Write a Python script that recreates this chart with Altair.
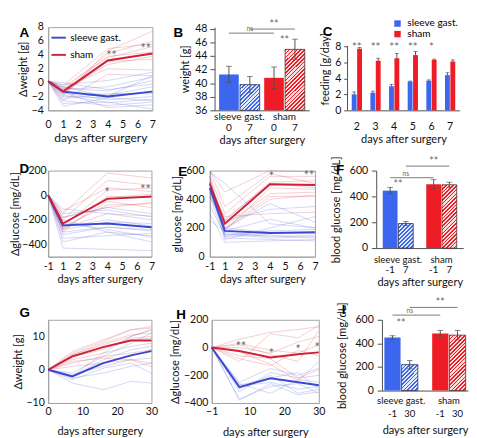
import altair as alt
import pandas as pd

FONT = "Lato"
LETTER_FONT = "Liberation Sans"
GROUPS = ["sleeve gast.", "sham"]
LINE_COLORS = ["#3a48cf", "#cc2238"]
BAR_COLORS = ["#3c66ee", "#ee1c25"]
HATCH_BG = ["#e2e9fc", "#ffdede"]
FRAME = "#a0a0a0"
BAR_AXIS = "#4a4a4a"
ERR = "#505050"
STAR = "#6a6a6a"

# ---------------- data ----------------
A_days = [0, 1, 4, 7]
A_sg_mean = [0.2, -1.3, -2.0, -1.3]
A_sham_mean = [0.2, -1.3, 3.2, 4.2]
A_sg_ind = [
    [0.2, -0.8, -1.2, 0.3], [0.2, -1.5, -2.5, -2.0], [0.2, -3.0, -2.8, -3.8],
    [0.2, -0.3, 0.3, 1.5], [0.2, -2.0, -2.2, -1.2], [0.2, -2.6, -3.3, -2.8],
    [0.2, -1.0, -0.6, 0.8], [0.2, -1.2, -1.8, -0.6], [0.2, -1.8, -2.9, -2.4],
    [0.2, 0.0, -1.0, -0.2], [0.2, -2.3, -1.6, -1.6], [0.2, -0.6, -2.0, 1.0],
    [0.2, -1.4, -3.6, -3.2], [0.2, -3.4, -2.2, -2.6],
]
A_sham_ind = [
    [0.2, -0.6, 3.6, 5.2], [0.2, -1.0, 2.6, 3.8], [0.2, -2.0, 4.6, 7.4],
    [0.2, -1.6, 3.0, 3.4], [0.2, -0.8, 2.0, 1.8], [0.2, -1.3, 3.8, 4.4],
    [0.2, -2.6, 1.2, 1.0], [0.2, -1.1, 4.2, 6.0], [0.2, -1.7, 3.3, 4.1],
    [0.2, -0.4, 4.9, 5.6],
]
A_star_x = [4.25, 6.55]
A_star_y = [3.8, 4.8]
A_star_t = ["**", "**"]

BAR_GROUP = ["sleeve gast.", "sleeve gast.", "sham", "sham"]
B_days = ["0", "7", "0", "7"]
B_mean = [41.3, 39.8, 40.8, 45.0]
B_err = [1.2, 1.2, 1.6, 1.5]
B_ns_y, B_ss_y, B_star_y = 47.4, 48.0, 46.2

C_days = [2, 3, 4, 5, 6, 7]
C_sg = [2.0, 2.2, 3.0, 3.6, 3.7, 4.4]
C_sg_err = [0.3, 0.2, 0.25, 0.05, 0.1, 0.3]
C_sham = [7.7, 6.2, 6.5, 6.9, 6.3, 6.1]
C_sham_err = [0.15, 0.3, 0.6, 0.45, 0.1, 0.2]
C_stars = ["**", "**", "**", "**", "*", ""]

D_days = [-1, 1, 4, 7]
D_sg_mean = [0, -245, -230, -260]
D_sham_mean = [0, -230, -30, -10]
D_sg_ind = [
    [0, -110, -150, -200], [0, -200, -300, -330], [0, -260, -200, -250],
    [0, -300, -260, -290], [0, -350, -330, -310], [0, -430, -440, -450],
    [0, -180, -100, -150], [0, -240, -230, -260], [0, -280, -220, -230],
    [0, -320, -260, -280], [0, -150, -120, -175], [0, -380, -300, -380],
    [0, -220, -280, -340],
]
D_sham_ind = [
    [0, -150, 180, 140], [0, -200, 120, 80], [0, -250, 40, 60],
    [0, -280, -50, -100], [0, -180, -100, -60], [0, -230, -20, 10],
    [0, -270, -150, -170], [0, -130, 60, 30], [0, -260, -80, -70],
    [0, -300, -10, -20],
]
D_star_x = [4.0, 6.6]
D_star_y = [15, 40]
D_star_t = ["*", "**"]

E_days = [-1, 1, 4, 7]
E_sg_mean = [480, 180, 165, 170]
E_sham_mean = [510, 230, 505, 500]
E_sg_ind = [
    [520, 150, 160, 170], [480, 200, 370, 240], [440, 170, 140, 150],
    [500, 120, 200, 280], [560, 140, 150, 130], [300, 100, 110, 120],
    [250, 180, 260, 200], [450, 200, 170, 160], [520, 160, 130, 140],
    [480, 250, 330, 350], [420, 130, 120, 110], [590, 510, 230, 200],
    [360, 150, 180, 190],
]
E_sham_ind = [
    [600, 450, 600, 590], [560, 300, 560, 560], [540, 250, 520, 530],
    [500, 180, 480, 470], [480, 200, 420, 420], [420, 220, 440, 450],
    [600, 350, 580, 510], [460, 280, 300, 310], [520, 190, 400, 430],
    [500, 260, 510, 480],
]
E_star_x = [4.1, 6.6]
E_star_y = [555, 560]
E_star_t = ["*", "**"]

F_days = ["-1", "7", "-1", "7"]
F_mean = [445, 190, 495, 490]
F_err = [25, 15, 35, 20]
F_ns_y, F_ss_y, F_star_y = 545, 635, 485

G_days = [0, 7, 16, 24, 30]
G_sg_mean = [0, -2.0, 2.0, 4.3, 5.6]
G_sham_mean = [0, 4.0, 6.8, 8.8, 8.8]
G_sg_ind = [
    [0, -1.5, 1.0, 3.0, 3.5], [0, -2.5, -1.0, 1.0, 2.0], [0, -4.0, -6.0, -3.5, -4.0],
    [0, -1.0, 4.0, 8.0, 11.0], [0, -2.0, 3.0, 6.0, 7.0], [0, -3.0, 0.5, 2.0, -1.0],
    [0, -2.0, 5.0, 10.0, 12.0], [0, -1.8, 2.0, 4.0, 6.0],
]
G_sham_ind = [
    [0, 5.5, 9.0, 12.0, 12.5], [0, 4.5, 8.0, 10.5, 11.0], [0, 3.5, 7.0, 9.0, 9.5],
    [0, 2.0, 4.0, 5.0, 6.0], [0, 1.0, 2.0, 3.0, 2.0], [0, 4.0, 6.0, 9.5, 10.0],
    [0, 3.0, 5.0, 7.0, 8.0], [0, 5.0, 8.5, 12.0, 13.0], [0, 2.5, 3.5, 3.0, 1.0],
    [0, 4.5, 7.5, 10.0, 12.0],
]

H_days = [-1, 7, 16, 24, 30]
H_sg_mean = [0, -285, -222, -250, -272]
H_sham_mean = [0, -25, -72, -48, -35]
H_sg_ind = [
    [0, -250, -150, -200, -150], [0, -300, -200, -330, -300], [0, -370, -280, -260, -330],
    [0, -260, -330, -230, -250], [0, -280, -250, -300, -280], [0, -320, -180, -220, -200],
    [0, -380, -260, -340, -320], [0, -270, -220, -180, -300],
]
H_sham_ind = [
    [0, 60, 110, 130, 150], [0, -100, 100, 70, 160], [0, 20, -50, -100, 120],
    [0, -30, -120, -240, -100], [0, -60, -80, -220, -160], [0, 0, -40, 40, 80],
    [0, -80, -130, -20, -60], [0, 30, -20, -40, 20],
]
H_star_x = [7.5, 16.3, 24.0, 29.5]
H_star_y = [5, -45, -20, -8]
H_star_t = ["**", "*", "*", "*"]

I_days = ["-1", "30", "-1", "30"]
I_mean = [450, 220, 485, 470]
I_err = [15, 35, 25, 40]
I_ns_y, I_ss_y, I_star_y = 640, 705, 560


# ---------------- helpers ----------------
def long_df(days, sg_ind, sham_ind):
    rows = []
    for gname, ind in (("sleeve gast.", sg_ind), ("sham", sham_ind)):
        for k, series in enumerate(ind):
            for d, v in zip(days, series):
                rows.append({"id": f"{gname}-{k}", "group": gname, "day": d, "v": v})
    return pd.DataFrame(rows)


def mean_df(days, sg, sham):
    rows = []
    for gname, s in (("sleeve gast.", sg), ("sham", sham)):
        for d, v in zip(days, s):
            rows.append({"group": gname, "day": d, "v": v})
    return pd.DataFrame(rows)


def frame_layers(letter, dx, dy, L, R, T, B, W, H):
    # invisible layout box fixing the panel's extent, plus the panel letter
    sp = alt.Chart(pd.DataFrame({"s": [0]})).mark_rect(color="white", opacity=0).encode(
        x=alt.value(-L), x2=alt.value(W + R), y=alt.value(-T), y2=alt.value(H + B))
    lt = alt.Chart(pd.DataFrame({"t": [letter]})).mark_text(
        align="left", baseline="top", font=LETTER_FONT, fontWeight="bold",
        fontSize=14, color="#000").encode(x=alt.value(dx), y=alt.value(dy), text="t:N")
    return [sp, lt]


def hatch(line_c, bg_c, w, h, spacing=2.8):
    r = h / w
    s = (1 + r) / (1 + r * r)
    n = max(3, round((w + h) / (1.41421 * spacing)))
    stops = []
    for i in range(n):
        a, b, c = i / n, (i + 0.42) / n, (i + 1) / n
        stops += [alt.GradientStop(offset=a, color=line_c), alt.GradientStop(offset=b, color=line_c),
                  alt.GradientStop(offset=b, color=bg_c), alt.GradientStop(offset=c, color=bg_c)]
    return alt.LinearGradient(gradient="linear", stops=stops, x1=0, y1=0, x2=s, y2=s * r)


def line_panel(p):
    days = p["days"]
    ind = long_df(days, p["sg_ind"], p["sham_ind"])
    mean = mean_df(days, p["sg_mean"], p["sham_mean"])
    px_expr = "datum.day < 0 ? 0 : datum.day" if p["shift"] else "datum.day"
    xax = dict(values=p["xticks"], title="days after surgery", ticks=False,
               labelPadding=p["xlp"], titlePadding=p["xtp"], labelFlush=False,
               labelOverlap=False, labelBound=False, domainColor=FRAME,
               titleFontSize=p.get("xtfs", 11.5))
    if p["shift"]:
        xax["labelExpr"] = "datum.value == 0 ? '-1' : datum.label"
    X = alt.X("px:Q", scale=alt.Scale(domain=p["xdom"], nice=False, zero=False), axis=alt.Axis(**xax))
    Y = alt.Y("v:Q", scale=alt.Scale(domain=p["ydom"], nice=False, zero=False),
              axis=alt.Axis(values=p["yticks"], title=p["ytitle"], ticks=False,
                            labelPadding=p["ylp"], titlePadding=p["ytp"], labelFlush=False,
                            labelOverlap=False, domainColor=FRAME))
    cscale = alt.Scale(domain=GROUPS, range=LINE_COLORS)
    leg = p.get("legend")
    ind_l = alt.Chart(ind).transform_calculate(px=px_expr).mark_line(
        strokeWidth=0.8, opacity=0.28).encode(
        x=X, y=Y, color=alt.Color("group:N", scale=cscale, legend=leg if leg is not None else None),
        detail="id:N")
    mean_l = alt.Chart(mean).transform_calculate(px=px_expr).mark_line(strokeWidth=2).encode(
        x=X, y=Y, color=alt.Color("group:N", scale=cscale, legend=leg if leg is not None else None))
    layers = frame_layers(p["letter"], p["ldx"], p["ldy"], *p["box"], p["W"], p["H"])
    layers += [ind_l, mean_l]
    if p.get("stars"):
        sx, sy, st = p["stars"]
        sdf = pd.DataFrame({"px": sx, "v": sy, "t": st})
        layers.append(alt.Chart(sdf).mark_text(color=STAR, fontSize=13, baseline="middle").encode(
            x=X, y=Y, text="t:N"))
    return alt.layer(*layers).properties(width=p["W"], height=p["H"])


def bar_panel(p):
    d0, d1 = p["days"][0], p["days"][1]
    df = pd.DataFrame({"group": BAR_GROUP, "day": p["days"], "v": p["mean"], "err": p["err"]})
    df["lo"] = df["v"] - df["err"]
    df["hi"] = df["v"] + df["err"]
    W, H = p["W"], p["H"]
    X = alt.X("group:N", sort=GROUPS,
              scale=alt.Scale(type="band", domain=GROUPS, paddingInner=p["pi"], paddingOuter=p["po"]),
              axis=alt.Axis(title="days after surgery", ticks=False, labelAngle=0,
                            labelPadding=p["xlp"], titlePadding=p["xtp"], domainColor=BAR_AXIS,
                            labelFontSize=p["lfs"]))
    XO = alt.XOffset("day:N", sort=[d0, d1],
                     scale=alt.Scale(type="band", domain=[d0, d1], paddingInner=0.06, paddingOuter=0))

    def Y(f):
        return alt.Y(f, scale=alt.Scale(domain=p["ydom"], nice=False, zero=False),
                     axis=alt.Axis(values=p["yticks"], title=p["ytitle"], tickSize=5,
                                   labelPadding=p["ylp"], titlePadding=p["ytp"],
                                   domainColor=BAR_AXIS, tickColor=BAR_AXIS))

    base = alt.Chart(df)
    ybase = alt.datum(p["ydom"][0])
    solid = base.transform_filter(alt.datum.day == d0).mark_bar().encode(
        x=X, xOffset=XO, y=Y("v:Q"), y2=ybase,
        color=alt.Color("group:N", scale=alt.Scale(domain=GROUPS, range=BAR_COLORS), legend=None))
    bw, hb, hr = p["hatch_px"]
    hb_l = base.transform_filter((alt.datum.day == d1) & (alt.datum.group == GROUPS[0])).mark_bar(
        fill=hatch(BAR_COLORS[0], HATCH_BG[0], bw, hb), stroke="#2a2a40", strokeWidth=0.8).encode(
        x=X, xOffset=XO, y=Y("v:Q"), y2=ybase)
    hr_l = base.transform_filter((alt.datum.day == d1) & (alt.datum.group == GROUPS[1])).mark_bar(
        fill=hatch(BAR_COLORS[1], HATCH_BG[1], bw, hr), stroke="#402a2a", strokeWidth=0.8).encode(
        x=X, xOffset=XO, y=Y("v:Q"), y2=ybase)
    err = base.mark_rule(color=ERR, strokeWidth=1).encode(x=X, xOffset=XO, y=Y("lo:Q"), y2="hi:Q")
    cap_hi = base.mark_tick(orient="horizontal", size=6, thickness=1, color=ERR).encode(
        x=X, xOffset=XO, y=Y("hi:Q"))
    cap_lo = base.mark_tick(orient="horizontal", size=6, thickness=1, color=ERR).encode(
        x=X, xOffset=XO, y=Y("lo:Q"))
    days_t = base.mark_text(baseline="top", fontSize=p["lfs"], color="#111").encode(
        x=X, xOffset=XO, y=alt.value(H + p["dly"]), text="day:N")
    sig = pd.DataFrame({
        "id": ["ns", "ns", "ss", "ss"],
        "group": [GROUPS[0], GROUPS[1], GROUPS[0], GROUPS[1]],
        "day": [d0, d0, d1, d1],
        "v": [p["ns"], p["ns"], p["ss"], p["ss"]],
    })
    sig_l = alt.Chart(sig).mark_line(color="#777", strokeWidth=1).encode(
        x=X, xOffset=XO, y=Y("v:Q"), detail="id:N")
    sig_t = pd.DataFrame({"group": [GROUPS[0], GROUPS[1]], "day": [d1, d0],
                          "v": [p["ns"], p["ss"]], "t": ["ns", "**"]})
    ns_t = alt.Chart(sig_t).transform_filter(alt.datum.t == "ns").mark_text(
        fontSize=7, color=STAR, baseline="bottom", dy=-1).encode(x=X, xOffset=XO, y=Y("v:Q"), text="t:N")
    ss_t = alt.Chart(sig_t).transform_filter(alt.datum.t == "**").mark_text(
        fontSize=11, color=STAR, baseline="middle", dy=-4).encode(x=X, xOffset=XO, y=Y("v:Q"), text="t:N")
    st = pd.DataFrame({"group": [p["star_group"]], "v": [p["star_y"]], "t": ["**"]})
    star_l = alt.Chart(st).mark_text(fontSize=11, color=STAR, baseline="middle").encode(
        x=X, y=Y("v:Q"), text="t:N")
    layers = frame_layers(p["letter"], p["ldx"], p["ldy"], *p["box"], W, H)
    layers += [solid, hb_l, hr_l, err, cap_hi, cap_lo, days_t, sig_l, ns_t, ss_t, star_l]
    return alt.layer(*layers).properties(width=W, height=H, view=alt.ViewBackground(stroke="transparent"))


def feeding_panel():
    W, H = 117, 87
    rows = []
    for gname, vals, errs in (("sleeve gast.", C_sg, C_sg_err), ("sham", C_sham, C_sham_err)):
        for d, v, e in zip(C_days, vals, errs):
            rows.append({"day": d, "group": gname, "v": v, "hi": v + e})
    df = pd.DataFrame(rows)
    X = alt.X("day:O", scale=alt.Scale(type="band", domain=C_days, paddingInner=0.45, paddingOuter=0.225),
              axis=alt.Axis(title="days after surgery", ticks=False, labelAngle=0, labelPadding=11,
                            titlePadding=3, domainColor=BAR_AXIS))
    XO = alt.XOffset("group:N", sort=GROUPS,
                     scale=alt.Scale(type="band", domain=GROUPS, paddingInner=0.1, paddingOuter=0))

    def Y(f):
        return alt.Y(f, scale=alt.Scale(domain=[0, 10.39], nice=False, zero=False),
                     axis=alt.Axis(values=[0, 2, 4, 6, 8], title="feeding [g/day]", tickSize=4,
                                   domain=False, labelPadding=3, titlePadding=4, tickColor=BAR_AXIS))

    base = alt.Chart(df)
    bars = base.mark_bar().encode(
        x=X, xOffset=XO, y=Y("v:Q"), y2=alt.datum(0),
        color=alt.Color("group:N", scale=alt.Scale(domain=GROUPS, range=BAR_COLORS),
                        legend=alt.Legend(title=None, orient="none", legendX=47, legendY=-9,
                                          symbolType="square", symbolSize=45, labelFontSize=10.5,
                                          labelFont=FONT, rowPadding=0, labelOffset=5,
                                          symbolStrokeWidth=0)))
    err = base.mark_rule(color=ERR, strokeWidth=1).encode(x=X, xOffset=XO, y=Y("v:Q"), y2="hi:Q")
    cap = base.mark_tick(orient="horizontal", size=4, thickness=1, color=ERR).encode(
        x=X, xOffset=XO, y=Y("hi:Q"))
    axis_line = alt.Chart(pd.DataFrame({"lo": [0], "hi": [8]})).mark_rule(color=BAR_AXIS).encode(
        x=alt.value(0), y=Y("lo:Q"), y2="hi:Q")
    stars = alt.Chart(pd.DataFrame({"day": C_days, "t": C_stars, "v": [7.9] * 6})).mark_text(
        fontSize=12, color=STAR, baseline="middle").encode(x=X, y=Y("v:Q"), text="t:N")
    layers = frame_layers("C", -26, -2, 32, 0, 7, 46, W, H)
    layers += [bars, err, cap, axis_line, stars]
    return alt.layer(*layers).properties(width=W, height=H, view=alt.ViewBackground(stroke="transparent"))


LEGEND_A = alt.Legend(title=None, orient="top-left", offset=1, padding=1, symbolType="stroke",
                      symbolStrokeWidth=2, symbolSize=230, symbolOpacity=1, labelFontSize=10.5,
                      labelFont=FONT, rowPadding=3, labelOffset=3)

pA = line_panel(dict(letter="A", ldx=-30, ldy=-1, box=(33, 19, 7, 46), W=109, H=87,
                     days=A_days, sg_ind=A_sg_ind, sham_ind=A_sham_ind, sg_mean=A_sg_mean,
                     sham_mean=A_sham_mean, shift=False, xdom=[0, 7], xticks=list(range(8)),
                     ydom=[-4, 8], yticks=[-4, -2, 0, 2, 4, 6, 8], ytitle="Δweight [g]",
                     xlp=9, xtp=3, ylp=5, ytp=3, xtfs=12.5, legend=LEGEND_A,
                     stars=(A_star_x, A_star_y, A_star_t)))

pB = bar_panel(dict(letter="B", ldx=-43, ldy=-1, box=(44, 6, 7, 46), W=99, H=87,
                    days=B_days, mean=B_mean, err=B_err, ydom=[36, 48.28],
                    yticks=[36, 38, 40, 42, 44, 46, 48], ytitle="weight [g]",
                    pi=0.1, po=0.1, xlp=2, xtp=13, lfs=10.5, ylp=3, ytp=4, dly=14,
                    ns=B_ns_y, ss=B_ss_y, star_group="sham", star_y=B_star_y,
                    hatch_px=(20.5, 27, 64)))

pC = feeding_panel()

pD = line_panel(dict(letter="D", ldx=-30, ldy=-8, box=(33, 20, 10, 40), W=108, H=90,
                     days=D_days, sg_ind=D_sg_ind, sham_ind=D_sham_ind, sg_mean=D_sg_mean,
                     sham_mean=D_sham_mean, shift=True, xdom=[0, 7], xticks=list(range(8)),
                     ydom=[-500, 200], yticks=[-400, -200, 0, 200], ytitle="Δglucose [mg/dL]",
                     xlp=4, xtp=3, ylp=2, ytp=2, stars=(D_star_x, D_star_y, D_star_t)))

pE = line_panel(dict(letter="E", ldx=-33, ldy=-5, box=(37, 15, 10, 40), W=110, H=90,
                     days=E_days, sg_ind=E_sg_ind, sham_ind=E_sham_ind, sg_mean=E_sg_mean,
                     sham_mean=E_sham_mean, shift=True, xdom=[0, 7], xticks=list(range(8)),
                     ydom=[0, 600], yticks=[0, 200, 400, 600], ytitle="glucose [mg/dL]",
                     xlp=4, xtp=3, ylp=6, ytp=3, stars=(E_star_x, E_star_y, E_star_t)))

pF = bar_panel(dict(letter="F", ldx=-42, ldy=-7, box=(46, 0, 14, 45), W=91, H=81,
                    days=F_days, mean=F_mean, err=F_err, ydom=[0, 600],
                    yticks=[0, 200, 400, 600], ytitle="blood glucose [mg/dL]",
                    pi=0.3, po=0.15, xlp=7, xtp=13, lfs=10, ylp=4, ytp=8, dly=18,
                    ns=F_ns_y, ss=F_ss_y, star_group="sleeve gast.", star_y=F_star_y,
                    hatch_px=(15.3, 26, 66)))

pG = line_panel(dict(letter="G", ldx=-30, ldy=-14, box=(33, 17, 15, 30), W=108, H=87,
                     days=G_days, sg_ind=G_sg_ind, sham_ind=G_sham_ind, sg_mean=G_sg_mean,
                     sham_mean=G_sham_mean, shift=False, xdom=[0, 30], xticks=[0, 10, 20, 30],
                     ydom=[-10, 15], yticks=[-10, 0, 10], ytitle="Δweight [g]",
                     xlp=3, xtp=10, ylp=4, ytp=3))

pH = line_panel(dict(letter="H", ldx=-37, ldy=-12, box=(38, 17, 15, 30), W=112, H=87,
                     days=H_days, sg_ind=H_sg_ind, sham_ind=H_sham_ind, sg_mean=H_sg_mean,
                     sham_mean=H_sham_mean, shift=False, xdom=[-1, 30], xticks=[-1, 10, 20, 30],
                     ydom=[-400, 200], yticks=[-400, -200, 0, 200], ytitle="Δglucose [mg/dL]",
                     xlp=3, xtp=11, ylp=4, ytp=3, stars=(H_star_x, H_star_y, H_star_t)))

pI = bar_panel(dict(letter="I", ldx=-42, ldy=-17, box=(44, 0, 24, 30), W=90, H=74,
                    days=I_days, mean=I_mean, err=I_err, ydom=[0, 600],
                    yticks=[0, 200, 400, 600], ytitle="blood glucose [mg/dL]",
                    pi=0.3, po=0.05, xlp=6, xtp=20, lfs=10, ylp=4, ytp=8, dly=20,
                    ns=I_ns_y, ss=I_ss_y, star_group="sleeve gast.", star_y=I_star_y,
                    hatch_px=(17, 27, 58)))


def row(*charts):
    return alt.hconcat(*charts, spacing=0, bounds="full").resolve_scale(
        color="independent", xOffset="independent")


chart = alt.vconcat(row(pA, pB, pC), row(pD, pE, pF), row(pG, pH, pI), spacing=0,
                    bounds="full", padding=0).resolve_scale(
    color="independent", xOffset="independent").configure_axis(
    labelFont=FONT, titleFont=FONT, labelFontSize=11, titleFontSize=11.5,
    titleFontWeight="normal", labelColor="#111", titleColor="#111", grid=False
).configure_view(stroke=FRAME, strokeWidth=1).configure_text(font=FONT).configure_legend(
    labelFont=FONT)

chart.save("out.html", embed_options={"renderer": "svg", "actions": False})
